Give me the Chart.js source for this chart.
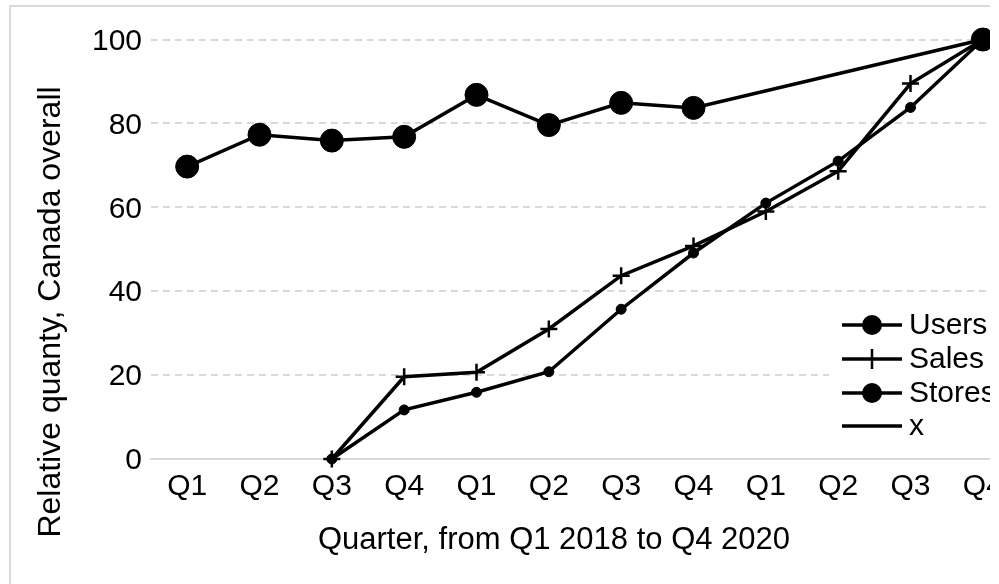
<!DOCTYPE html>
<html><head><meta charset="utf-8">
<script src="https://cdn.jsdelivr.net/npm/chart.js@4.4.1/dist/chart.umd.min.js"></script>
<style>
html,body{margin:0;padding:0;background:#fff;}
#clip{position:absolute;left:0;top:0;width:990px;height:584px;overflow:hidden;background:#fff;}
#frame{position:absolute;left:9px;top:5px;width:1090px;height:640px;border:2px solid #dadada;background:#fff;}
canvas{display:block;}
</style></head><body>
<div id="clip"><div id="frame"><canvas id="c" width="1090" height="640"></canvas></div></div>
<script>
const categories = ['Q1','Q2','Q3','Q4','Q1','Q2','Q3','Q4','Q1','Q2','Q3','Q4'];
const users  = [69.7, 77.3, 75.9, 76.8, 86.8, 79.6, 84.9, 83.7, null, null, null, 100];
const sales  = [null, null, 0, 19.6, 20.7, 31.0, 43.7, 50.8, 59.0, 68.6, 89.5, 100];
const stores = [null, null, 0, 11.7, 15.9, 20.8, 35.7, 49.1, 61.0, 71.0, 83.8, 100];
const xSeries = [null, null, null, null, null, null, null, null, null, null, null, null];
const seriesNames = ['Users', 'Sales', 'Stores', 'x'];
const yMin = 0, yMax = 100, yStep = 20;
const xTitle = 'Quarter, from Q1 2018 to Q4 2020';
const yTitle = 'Relative quanty, Canada overall';

const FONT = '"Liberation Sans", Arial, sans-serif';
const W = 1090, H = 640;
const AREA = {left: 140, top: 32.5, right: 1008, bottom: 452};

const overlay = {
  id: 'overlay',
  afterDraw(chart) {
    const ctx = chart.ctx;
    ctx.save();
    ctx.fillStyle = '#000';
    // x title
    ctx.font = '31px ' + FONT;
    ctx.textAlign = 'center';
    ctx.textBaseline = 'alphabetic';
    ctx.fillText(xTitle, 543, 542);
    // y title
    ctx.save();
    ctx.font = '32px ' + FONT;
    ctx.translate(49, 305);
    ctx.rotate(-Math.PI / 2);
    ctx.fillText(yTitle, 0, 0);
    ctx.restore();
    // legend
    ctx.fillStyle = '#fff';
    ctx.fillRect(818, 298, 272, 136);
    const ys = [318, 352, 386, 419];
    const styles = ['bigcircle', 'plus', 'bigcircle', 'none'];
    ctx.strokeStyle = '#000';
    ctx.fillStyle = '#000';
    ctx.font = '30px ' + FONT;
    ctx.textAlign = 'left';
    ctx.textBaseline = 'middle';
    seriesNames.forEach((name, i) => {
      const y = ys[i];
      ctx.lineWidth = 3.5;
      ctx.beginPath(); ctx.moveTo(831, y); ctx.lineTo(891, y); ctx.stroke();
      if (styles[i] === 'bigcircle') {
        ctx.beginPath(); ctx.arc(861, y, 10, 0, Math.PI * 2); ctx.fill();
      } else if (styles[i] === 'plus') {
        ctx.lineWidth = 2.5;
        ctx.beginPath(); ctx.moveTo(861, y - 10); ctx.lineTo(861, y + 10); ctx.stroke();
      }
      ctx.fillText(name, 898, y + 1);
    });
    ctx.restore();
  }
};

new Chart(document.getElementById('c'), {
  type: 'line',
  data: {
    labels: categories,
    datasets: [
      {label: seriesNames[0], data: users, borderColor: '#000', backgroundColor: '#000', borderWidth: 3.5,
       pointStyle: 'circle', pointRadius: 11.5, pointBorderWidth: 1, spanGaps: true, clip: false},
      {label: seriesNames[1], data: sales, borderColor: '#000', backgroundColor: '#000', borderWidth: 3.5,
       pointStyle: 'cross', pointRadius: 8.5, pointBorderWidth: 2.5, clip: false},
      {label: seriesNames[2], data: stores, borderColor: '#000', backgroundColor: '#000', borderWidth: 3.5,
       pointStyle: 'circle', pointRadius: 5, pointBorderWidth: 1, clip: false},
      {label: seriesNames[3], data: xSeries, borderColor: '#000', backgroundColor: '#000', borderWidth: 3.5,
       pointRadius: 0, clip: false}
    ]
  },
  options: {
    responsive: false,
    animation: false,
    events: [],
    layout: {autoPadding: false, padding: {left: AREA.left - 140, top: AREA.top, right: W - AREA.right, bottom: H - AREA.bottom - 100}},
    plugins: {legend: {display: false}, tooltip: {enabled: false}, title: {display: false}},
    scales: {
      x: {
        offset: true,
        grid: {display: false, drawTicks: false, offset: true},
        border: {display: true, color: '#d9d9d9', width: 2},
        ticks: {color: '#000', font: {family: FONT, size: 30}, padding: 10, maxRotation: 0, autoSkip: false},
        afterFit(s) { s.height = 100; }
      },
      y: {
        min: yMin, max: yMax,
        grid: {color: '#d9d9d9', lineWidth: 2, drawTicks: false},
        border: {display: false, dash: [7, 5]},
        ticks: {stepSize: yStep, color: '#000', font: {family: FONT, size: 30}, padding: 9, labelOffset: 2},
        afterFit(s) { s.width = 140; }
      }
    }
  },
  plugins: [overlay]
});
</script>
</body></html>
